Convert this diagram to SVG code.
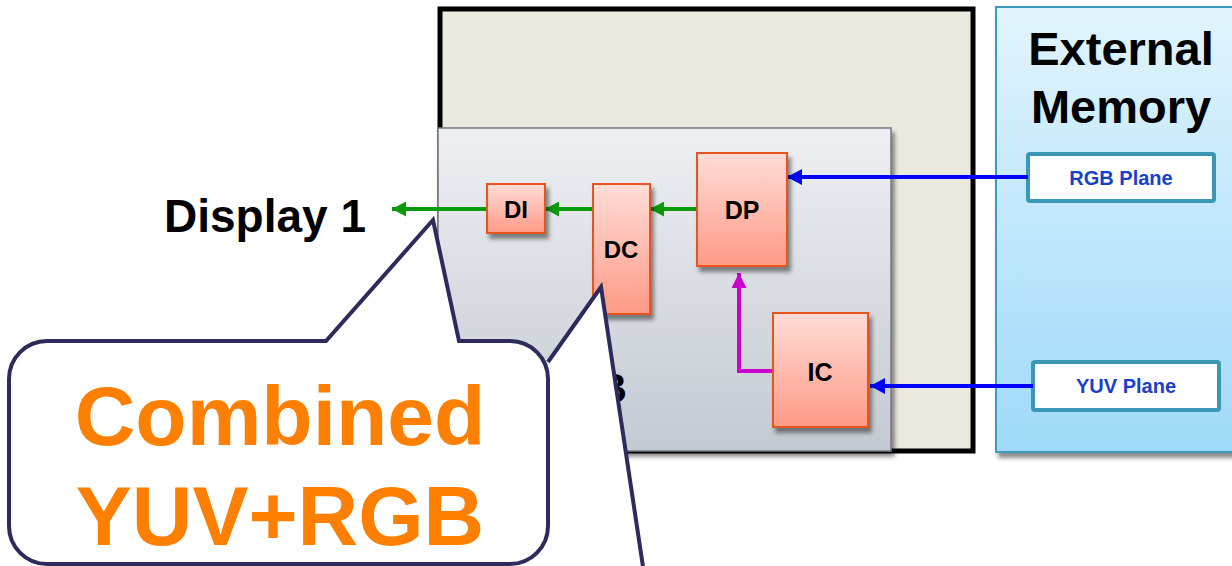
<svg xmlns="http://www.w3.org/2000/svg" width="1232" height="566" viewBox="0 0 1232 566">
  <style>
    .lbl { font-family: "Liberation Sans", Arial, sans-serif; font-weight: bold; fill: #000; text-anchor: middle; }
    .blk { fill: url(#blockGrad); stroke: #E8541C; stroke-width: 2; filter: url(#shadow); }
    .plane { fill: #fff; stroke: #3A97B5; stroke-width: 4; }
    .planeTxt { font-family: "Liberation Sans", Arial, sans-serif; font-weight: bold; font-size: 20px; fill: #1A3FC9; text-anchor: middle; }
    .big { font-family: "Liberation Sans", Arial, sans-serif; font-weight: bold; font-size: 84px; fill: #FF7F00; text-anchor: middle; }
    .callout { fill: #fff; stroke: #2D2B5C; stroke-width: 4; stroke-linejoin: miter; }
  </style>
  <defs>
    <linearGradient id="blockGrad" x1="0" y1="0" x2="0" y2="1">
      <stop offset="0" stop-color="#FFDDD7"/>
      <stop offset="1" stop-color="#FF9A86"/>
    </linearGradient>
    <linearGradient id="ipuGrad" x1="0" y1="0" x2="0" y2="1">
      <stop offset="0" stop-color="#EEF0F3"/>
      <stop offset="1" stop-color="#C4CAD2"/>
    </linearGradient>
    <linearGradient id="memGrad" x1="0" y1="0" x2="0" y2="1">
      <stop offset="0" stop-color="#E2F4FD"/>
      <stop offset="1" stop-color="#9FDAF8"/>
    </linearGradient>
    <filter id="shadow" x="-20%" y="-20%" width="150%" height="150%">
      <feDropShadow dx="3" dy="5" stdDeviation="2" flood-color="#000" flood-opacity="0.45"/>
    </filter>
    <marker id="arrGreen" markerWidth="14" markerHeight="15" refX="14" refY="7.5" orient="auto" markerUnits="userSpaceOnUse">
      <path d="M0,0 L14,7.5 L0,15 Z" fill="#0A9A0A"/>
    </marker>
    <marker id="arrBlue" markerWidth="15" markerHeight="16" refX="15" refY="8" orient="auto" markerUnits="userSpaceOnUse">
      <path d="M0,0 L15,8 L0,16 Z" fill="#0000FF"/>
    </marker>
    <marker id="arrMag" markerWidth="15" markerHeight="15" refX="15" refY="7.5" orient="auto" markerUnits="userSpaceOnUse">
      <path d="M0,0 L15,7.5 L0,15 Z" fill="#CC00CC"/>
    </marker>
  </defs>

  <rect width="1232" height="566" fill="#fff"/>

  <!-- SoC outline -->
  <g id="soc">
    <rect x="440" y="9" width="533" height="442" fill="#ECE9DF" stroke="#000" stroke-width="5"/>
  </g>

  <!-- IPU block -->
  <g id="ipu">
    <rect x="438" y="128" width="453" height="323" fill="url(#ipuGrad)" stroke="#6F7780" stroke-width="1.5" filter="url(#shadow)"/>
    <text class="lbl" x="627" y="402" font-size="40" style="text-anchor:end">B</text>
  </g>

  <!-- External memory -->
  <g id="external-memory">
    <rect x="996" y="7" width="250" height="445" fill="url(#memGrad)" stroke="#3C9CBA" stroke-width="2" filter="url(#shadow)"/>
    <text class="lbl" x="1121" y="65" font-size="47">External</text>
    <text class="lbl" x="1121" y="123" font-size="47">Memory</text>
  </g>
  <g id="rgb-plane">
    <rect class="plane" x="1028" y="154" width="186" height="47" rx="2"/>
    <text class="planeTxt" x="1121" y="185">RGB Plane</text>
  </g>
  <g id="yuv-plane">
    <rect class="plane" x="1033" y="362" width="186" height="48" rx="2"/>
    <text class="planeTxt" x="1126" y="393">YUV Plane</text>
  </g>

  <!-- Display output label -->
  <g id="display1">
    <text class="lbl" x="265" y="232" font-size="46">Display 1</text>
  </g>

  <!-- Connectors -->
  <g id="connectors" fill="none">
    <line x1="487" y1="209" x2="392" y2="209" stroke="#0A9A0A" stroke-width="4" marker-end="url(#arrGreen)"/>
    <line x1="593" y1="209" x2="545" y2="209" stroke="#0A9A0A" stroke-width="4" marker-end="url(#arrGreen)"/>
    <line x1="697" y1="209" x2="650" y2="209" stroke="#0A9A0A" stroke-width="4" marker-end="url(#arrGreen)"/>
    <line x1="1028" y1="177" x2="787" y2="177" stroke="#0000FF" stroke-width="4" marker-end="url(#arrBlue)"/>
    <line x1="1033" y1="386" x2="870" y2="386" stroke="#0000FF" stroke-width="4" marker-end="url(#arrBlue)"/>
    <polyline points="773,371 739,371 739,273" stroke="#CC00CC" stroke-width="4" marker-end="url(#arrMag)"/>
  </g>

  <!-- Processing blocks -->
  <g id="di">
    <rect class="blk" x="487" y="184" width="58" height="49"/>
    <text class="lbl" x="516" y="218" font-size="24">DI</text>
  </g>
  <g id="dc">
    <rect class="blk" x="593" y="184" width="57" height="130"/>
    <text class="lbl" x="621" y="258" font-size="24">DC</text>
  </g>
  <g id="dp">
    <rect class="blk" x="697" y="153" width="90" height="113"/>
    <text class="lbl" x="742" y="219" font-size="25">DP</text>
  </g>
  <g id="ic">
    <rect class="blk" x="773" y="313" width="95" height="114"/>
    <text class="lbl" x="820" y="381" font-size="25">IC</text>
  </g>

  <!-- Callout with two pointers -->
  <g id="callout">
    <polygon points="548,362 601,287 648,600 470,600" fill="#fff" stroke="none"/>
    <polyline class="callout" points="548,362 601,287 648,600" fill="none"/>
    <path class="callout" d="M47,341 L326,341 L433,220 L459,341 L510,341 A38,38 0 0 1 548,379 L548,526 A38,38 0 0 1 510,564 L47,564 A38,38 0 0 1 9,526 L9,379 A38,38 0 0 1 47,341 Z"/>
    <text class="big" x="280" y="445">Combined</text>
    <text class="big" x="280" y="545">YUV+RGB</text>
  </g>
</svg>
